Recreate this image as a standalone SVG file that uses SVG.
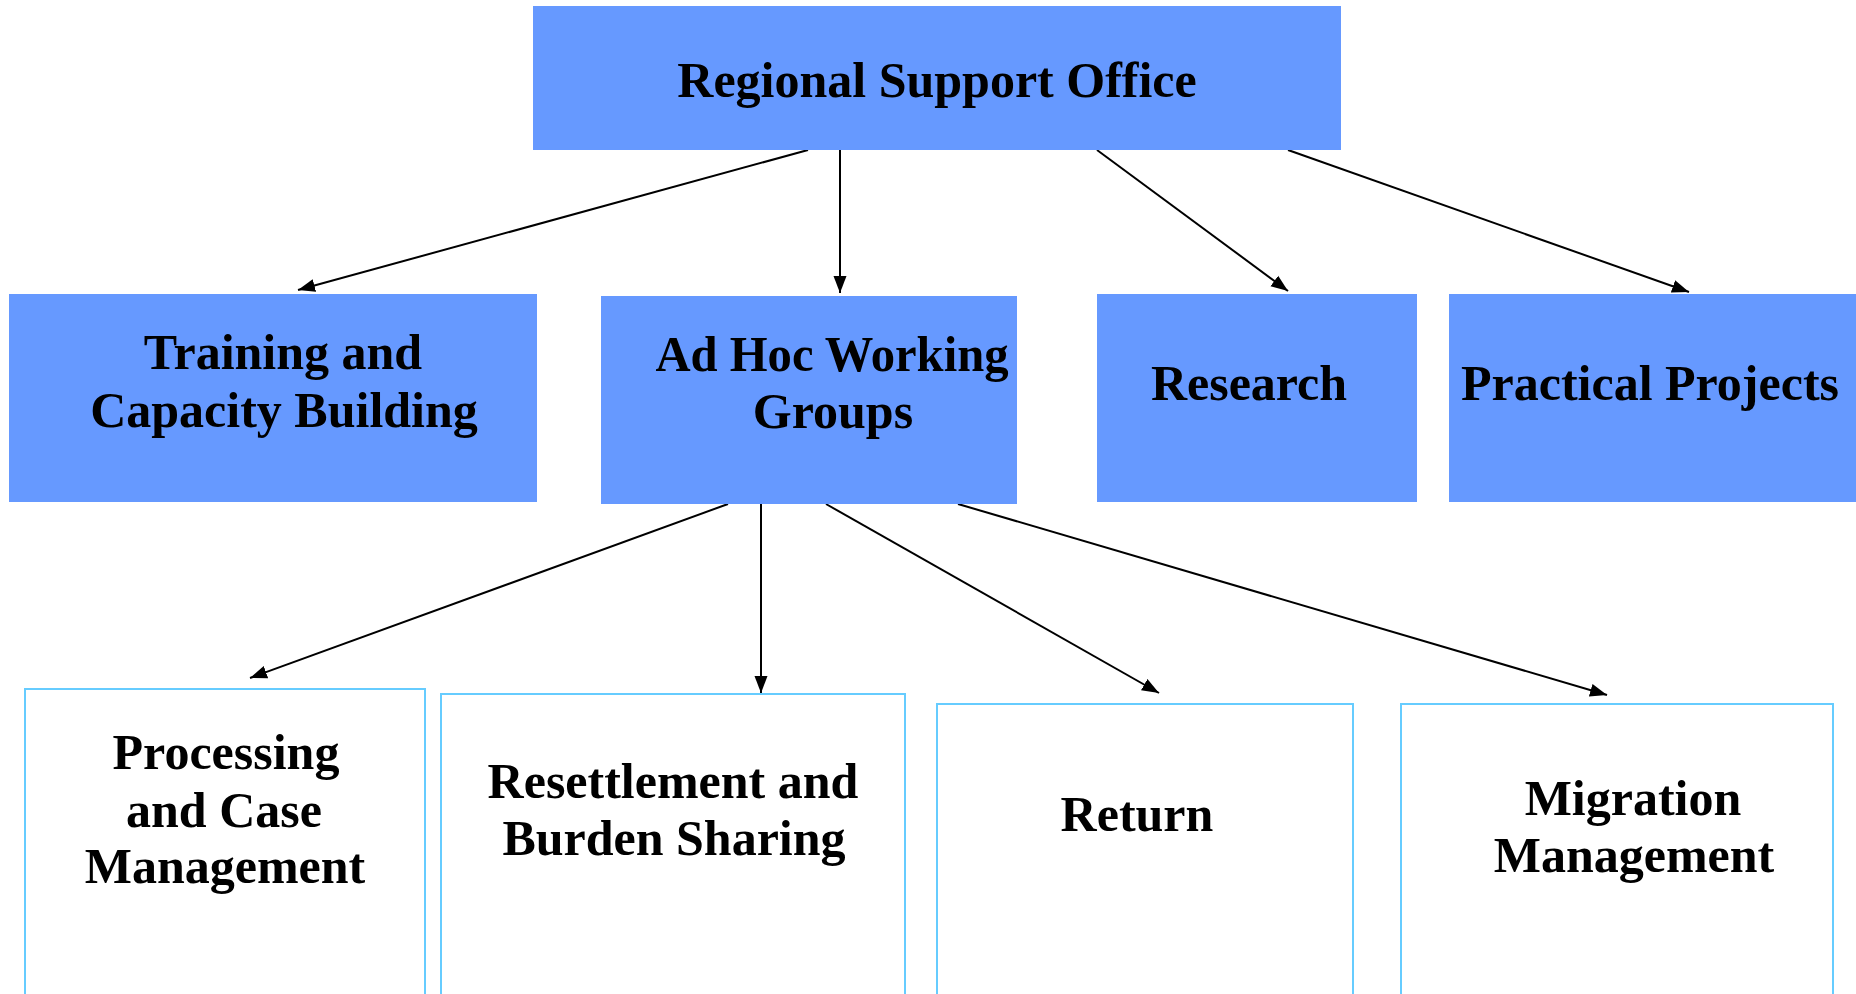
<svg xmlns="http://www.w3.org/2000/svg" width="1856" height="994" viewBox="0 0 1856 994">
<style>
.blue{fill:#6699FF;stroke:none}
.white{fill:#FFFFFF;stroke:#66CCFF;stroke-width:2}
.lbl{font-family:"Liberation Serif","Times New Roman",serif;font-weight:bold;font-size:50px;fill:#000;text-anchor:middle}
.conn{stroke:#000;stroke-width:2;fill:none;marker-end:url(#arr)}
</style>
<defs>
<marker id="arr" markerUnits="userSpaceOnUse" markerWidth="18" markerHeight="14" refX="17" refY="7" orient="auto">
<path d="M0,0.5 L17,7 L0,13.5 z" fill="#000"/>
</marker>
</defs>
<rect width="1856" height="994" fill="#FFFFFF"/>
<g id="connectors">
<line class="conn" x1="808" y1="150" x2="298" y2="290"/>
<line class="conn" x1="840" y1="150" x2="840" y2="293"/>
<line class="conn" x1="1097" y1="150" x2="1288" y2="291"/>
<line class="conn" x1="1288" y1="150" x2="1689" y2="292"/>
<line class="conn" x1="728" y1="504" x2="250" y2="678"/>
<line class="conn" x1="761" y1="504" x2="761" y2="693"/>
<line class="conn" x1="826" y1="504" x2="1159" y2="693"/>
<line class="conn" x1="958" y1="504" x2="1607" y2="695"/>
</g>
<g id="regional-support-office">
<rect class="blue" x="533" y="6" width="808" height="144"/>
<text class="lbl" x="937" y="97">Regional Support Office</text>
</g>
<g id="training">
<rect class="blue" x="9" y="294" width="528" height="208"/>
<text class="lbl" x="283" y="369">Training and</text>
<text class="lbl" x="284" y="427">Capacity Building</text>
</g>
<g id="adhoc">
<rect class="blue" x="601" y="296" width="416" height="208"/>
<text class="lbl" x="832" y="371" textLength="353" lengthAdjust="spacingAndGlyphs">Ad Hoc Working</text>
<text class="lbl" x="833" y="428">Groups</text>
</g>
<g id="research">
<rect class="blue" x="1097" y="294" width="320" height="208"/>
<text class="lbl" x="1249" y="400">Research</text>
</g>
<g id="practical">
<rect class="blue" x="1449" y="294" width="420" height="208"/>
<text class="lbl" x="1650" y="400">Practical Projects</text>
</g>
<g id="processing">
<rect class="white" x="25" y="689" width="400" height="320"/>
<text class="lbl" x="226" y="769">Processing</text>
<text class="lbl" x="224" y="827">and Case</text>
<text class="lbl" x="225" y="883">Management</text>
</g>
<g id="resettlement">
<rect class="white" x="441" y="694" width="464" height="320"/>
<text class="lbl" x="673" y="798">Resettlement and</text>
<text class="lbl" x="674" y="855">Burden Sharing</text>
</g>
<g id="return">
<rect class="white" x="937" y="704" width="416" height="320"/>
<text class="lbl" x="1137" y="831">Return</text>
</g>
<g id="migration">
<rect class="white" x="1401" y="704" width="432" height="320"/>
<text class="lbl" x="1633" y="815">Migration</text>
<text class="lbl" x="1634" y="872">Management</text>
</g>
</svg>
